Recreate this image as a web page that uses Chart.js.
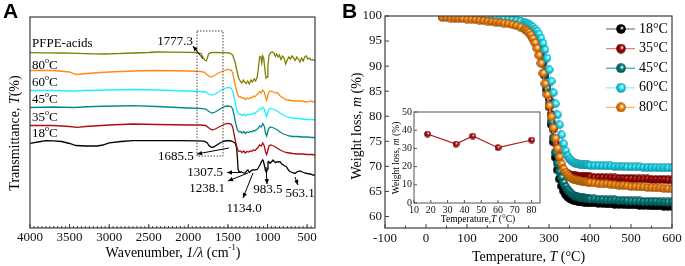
<!DOCTYPE html>
<html><head><meta charset="utf-8">
<script src="https://cdn.jsdelivr.net/npm/chart.js@4/dist/chart.umd.min.js"></script>
<style>
html,body{margin:0;padding:0;background:#fff;}
#wrap{position:relative;width:685px;height:266px;overflow:hidden;background:#fff;}
canvas{position:absolute;}
.pl{position:absolute;font:bold 21px "Liberation Sans",Arial,sans-serif;color:#000;line-height:21px;}
</style></head>
<body>
<div id="wrap">
<canvas id="cA" width="340" height="266" style="left:0;top:0;width:340px;height:266px"></canvas>
<canvas id="cB" width="345" height="266" style="left:340px;top:0;width:345px;height:266px"></canvas>
<canvas id="cI" width="160" height="124" style="left:390px;top:104px;width:160px;height:124px"></canvas>
<div class="pl" style="left:3px;top:0px">A</div>
<div class="pl" style="left:342px;top:0px">B</div>
</div>
<script>
// ================= Panel A: FTIR spectra (wavenumber cm-1, offset transmittance) =================
const ftirPFPE = [[4000,175.3],[3800,175.2],[3600,175],[3400,174.6],[3200,174.2],[3050,174],[2900,174.3],[2700,175],[2500,175.5],[2400,176],[2200,175.8],[2000,175.6],[1900,175.5],[1840,174.5],[1810,170],[1790,167.5],[1775,167.3],[1760,170],[1745,174],[1720,175.3],[1650,175.5],[1560,175.3],[1480,175],[1440,173],[1410,166],[1385,157],[1365,150],[1345,147],[1325,145],[1305,148],[1290,146],[1270,144.5],[1250,147],[1230,144],[1210,148],[1190,146],[1170,149],[1150,147],[1130,151],[1115,160],[1100,171],[1085,171.5],[1072,165],[1060,172],[1048,170],[1035,160],[1020,150],[1005,151],[995,162],[982,172],[960,175.5],[940,176],[920,175],[900,171.5],[885,174],[865,171],[850,173],[830,168.5],[810,172],[790,170],[770,164],[750,168],[730,171],[710,169],[690,172],[670,170],[650,167.5],[630,171],[610,169],[590,166],[570,170],[550,167],[530,171],[510,172],[490,169],[470,170],[450,168],[430,168.5],[410,167.5],[400,168]];
const ftir80 = [[4000,157.5],[3700,157.5],[3500,156],[3420,153.5],[3350,154],[3200,155],[3000,156],[2700,157],[2400,157.5],[2000,157],[1850,156.5],[1800,156],[1760,153],[1720,151],[1680,152],[1620,155],[1560,157],[1500,158.5],[1460,158],[1440,155],[1420,148],[1400,140],[1380,134],[1360,131],[1340,131.5],[1320,129.5],[1300,130.5],[1280,128.5],[1260,130],[1240,129],[1220,130.5],[1200,130],[1180,132],[1160,131],[1140,133],[1120,134],[1100,136.5],[1080,135],[1060,138],[1040,136],[1025,131],[1010,128],[995,133],[980,136],[960,137],[940,136.5],[920,136],[900,135],[880,135.5],[860,134],[840,132],[820,131],[800,130],[780,129],[760,128],[740,128],[700,127.5],[660,127],[620,127],[580,127],[540,126.5],[500,126],[460,127],[430,126.5],[400,126]];
const ftir60 = [[4000,137.5],[3700,137.5],[3450,137],[3300,137.5],[3000,138],[2700,138.5],[2400,138],[2000,137],[1850,136.5],[1780,136],[1740,134],[1700,133],[1660,134],[1600,137],[1540,139.5],[1500,140.5],[1460,140],[1440,137],[1420,130],[1400,122],[1380,116],[1360,113.5],[1340,114],[1320,112.5],[1300,114],[1280,112],[1260,113.5],[1240,113],[1220,114],[1200,113.5],[1180,115],[1160,114.5],[1140,116],[1120,117],[1100,119],[1080,118.5],[1060,121],[1040,119],[1025,114],[1010,111.5],[995,116],[980,119],[960,119.5],[940,119],[920,118.5],[900,118],[880,117],[860,116],[840,115],[800,113],[760,111.5],[720,110.5],[680,110],[620,109.5],[560,109],[500,108.5],[440,108.5],[400,108]];
const ftir45 = [[4000,120.5],[3700,121],[3450,120.5],[3200,121.5],[2900,122],[2700,122.3],[2400,121.5],[2000,120],[1850,119.7],[1780,119],[1740,116.5],[1700,115],[1660,116],[1600,119],[1540,121.5],[1500,122],[1460,121.5],[1440,119],[1420,112],[1400,104],[1380,98],[1360,96],[1340,96.5],[1320,95],[1300,96.5],[1280,94.5],[1260,96],[1240,95.5],[1220,96.5],[1200,96],[1180,97.5],[1160,97],[1140,98.5],[1120,99.5],[1100,102],[1080,101],[1060,104.5],[1040,101.5],[1025,95],[1010,92],[995,97],[980,100],[960,101],[940,100.5],[920,100],[900,99],[880,98.5],[860,97],[840,96],[800,94],[760,93],[720,92],[680,91.5],[620,91.5],[560,91],[500,91],[440,90.5],[400,90.5]];
const ftir35 = [[4000,102.5],[3700,102.5],[3500,101.5],[3400,100.7],[3300,101.5],[3000,103],[2700,104],[2400,103.5],[2000,103],[1850,103],[1780,102.5],[1740,100],[1700,98],[1660,99],[1600,101.5],[1540,104],[1500,104.7],[1460,104],[1440,101],[1420,93],[1400,85],[1380,79],[1360,76.5],[1340,77],[1320,75.5],[1300,77],[1280,75],[1260,76.5],[1240,76],[1220,77],[1200,76.5],[1180,78],[1160,77.5],[1140,79],[1120,80.5],[1100,83],[1080,82],[1060,85],[1040,82],[1025,76],[1010,73.5],[995,78],[980,82],[960,83],[940,82.5],[920,82],[900,81],[880,80],[860,79],[840,78],[800,76.5],[760,75.5],[720,75],[680,74.5],[620,74],[560,74],[500,73.5],[440,73.5],[400,73]];
const ftir18 = [[4000,84.7],[3900,86],[3800,87.3],[3700,87.2],[3600,86.5],[3500,84.5],[3420,82.5],[3300,82],[3150,82],[3080,83],[3000,85.2],[2850,86.5],[2700,87.3],[2400,87.3],[2100,87.3],[1900,87.2],[1800,86.8],[1760,85],[1740,82.5],[1710,80.7],[1680,81],[1640,83],[1590,85.5],[1540,87],[1500,87.5],[1460,87],[1430,86],[1405,84.5],[1390,80],[1380,70],[1372,59],[1360,56.3],[1330,56],[1300,55],[1284,54.7],[1265,57],[1248,58],[1230,55.5],[1210,57],[1190,58],[1160,58.2],[1130,58.5],[1110,61],[1090,64],[1075,66.5],[1063,68],[1055,67.5],[1040,63],[1025,57],[1012,56],[1003,59],[994,66],[985,66.5],[968,64.7],[950,66],[930,68],[915,66.5],[900,65.3],[880,66.3],[860,66],[842,66.3],[820,64],[800,63],[780,62],[760,61.3],[741,58.5],[720,56.5],[700,56],[670,55],[650,54.7],[620,56.5],[590,57],[560,56],[530,55],[500,54.5],[460,54],[425,53],[400,53]];
const ftirNames = ['PFPE-acids','80','60','45','35','18'];
const wnTicks = [4000,3500,3000,2500,2000,1500,1000,500];
const peakLabels = ['1777.3','1685.5','1307.5','1238.1','1134.0','983.5','563.1'];

// ================= Panel B: TGA curves =================
const tgaTemp = [40,50,60,70,80,90,100,110,120,130,140,150,160,170,180,190,200,210,220,230,240,
 245,250,255,260,265,270,275,280,285,290,295,300,305,310,315,320,325,330,335,340,345,350,355,360,365,370,375,380,385,390,395,400,
 410,420,430,440,450,460,470,480,490,500,510,520,530,540,550,560,570,580,590,600];
const tga18 = [99.9,99.9,99.9,99.9,99.9,99.8,99.8,99.8,99.7,99.7,99.7,99.6,99.6,99.5,99.5,99.4,99.3,99.2,99.0,98.8,98.5,
 98.3,98.0,97.6,97.1,96.4,95.5,94.3,92.7,90.6,88.1,85.2,81.9,78.4,74.9,71.8,69.3,67.5,66.1,65.1,64.4,63.9,63.6,63.4,63.2,63.1,63.0,62.9,62.9,62.8,62.8,62.8,62.7,
 62.7,62.6,62.6,62.5,62.5,62.4,62.4,62.4,62.3,62.3,62.3,62.2,62.2,62.2,62.1,62.1,62.1,62.0,62.0,62.0];
const tga35 = [99.9,99.9,99.9,99.8,99.8,99.8,99.8,99.7,99.7,99.7,99.6,99.6,99.5,99.5,99.4,99.4,99.3,99.2,99.0,98.8,98.5,
 98.3,98.0,97.6,97.1,96.5,95.7,94.6,93.1,91.2,88.9,86.3,83.4,80.4,77.4,74.7,72.5,70.9,69.9,69.2,68.8,68.5,68.3,68.2,68.1,68.1,68.0,68.0,68.0,67.9,67.9,67.9,67.9,
 67.8,67.8,67.8,67.7,67.7,67.7,67.6,67.6,67.6,67.6,67.5,67.5,67.5,67.5,67.4,67.4,67.4,67.4,67.3,67.3];
const tga45 = [99.9,99.9,99.9,99.9,99.8,99.8,99.8,99.8,99.7,99.7,99.7,99.6,99.6,99.5,99.5,99.4,99.3,99.2,99.1,98.9,98.6,
 98.4,98.1,97.7,97.2,96.5,95.6,94.4,92.8,90.8,88.4,85.6,82.4,79.0,75.7,72.8,70.6,69.0,67.8,66.8,66.0,65.4,64.9,64.5,64.2,64.0,63.9,63.8,63.7,63.7,63.6,63.6,63.5,
 63.5,63.4,63.4,63.3,63.3,63.3,63.2,63.2,63.2,63.1,63.1,63.1,63.0,63.0,63.0,63.0,62.9,62.9,62.9,62.9];
const tga60 = [99.9,99.9,99.9,99.9,99.9,99.8,99.8,99.8,99.8,99.7,99.7,99.7,99.6,99.6,99.5,99.5,99.4,99.3,99.2,99.0,98.8,
 98.6,98.4,98.1,97.8,97.4,97.0,96.4,95.6,94.6,93.3,91.6,89.3,87.0,84.7,82.5,80.3,78.3,76.3,74.5,73.1,72.1,71.5,71.1,70.8,70.6,70.5,70.4,70.4,70.3,70.3,70.3,70.2,
 70.2,70.2,70.1,70.1,70.1,70.0,70.0,70.0,69.9,69.9,69.9,69.9,69.8,69.8,69.8,69.8,69.7,69.7,69.7,69.7];
const tga80 = [99.7,99.7,99.6,99.6,99.5,99.5,99.4,99.4,99.3,99.2,99.1,99.0,98.9,98.8,98.7,98.6,98.5,98.3,98.1,97.8,97.4,
 97.1,96.7,96.2,95.5,94.7,93.6,92.2,90.6,88.6,86.5,84.3,82.1,79.9,77.7,75.6,73.6,71.9,70.5,69.5,68.8,68.3,67.9,67.6,67.4,67.3,67.2,67.1,67.0,66.9,66.9,66.8,66.8,
 66.7,66.6,66.5,66.5,66.4,66.3,66.2,66.2,66.1,66.0,66.0,65.9,65.9,65.8,65.8,65.7,65.7,65.6,65.6,65.5];
const tgaNames = ['18°C','35°C','45°C','60°C','80°C'];
const tempTicks = [-100,0,100,200,300,400,500,600];
const massTicks = [60,65,70,75,80,85,90,95,100];

// ================= Inset: total weight loss vs synthesis temperature =================
const insetTemp = [18,35,45,60,80];
const insetLoss = [37.9,32.4,36.8,30.4,34.6];
const insetXTicks = [10,20,30,40,50,60,70,80];
const insetYTicks = [0,10,20,30,40,50];

// ================= styling / layout =================
const SERIF = '"Liberation Serif","Times New Roman",serif';
const ftirColors = ['#808000','#ff8a16','#1ef2ff','#008a8a','#b00c0c','#000000'];
const tgaColors = ['#000000','#a80000','#008080','#1ee8ff','#ff8a10'];
const tgaLineColors = ['#777777','#e08080','#40a0a0','#80f0ff','#ffb060'];
const tgaOrder = [4,3,2,1,0];
const plain = v => String(v);

function shade(hex, f){
  const n=parseInt(hex.slice(1),16);let r=(n>>16)&255,g=(n>>8)&255,b=n&255;
  r=Math.round(r*f);g=Math.round(g*f);b=Math.round(b*f);return `rgb(${r},${g},${b})`;
}
function sphere(color, d){
  const c=document.createElement('canvas');c.width=c.height=d;const g=c.getContext('2d');
  const r=d/2;
  const grad=g.createRadialGradient(r*1.25,r*0.75,r*0.05,r,r,r);
  grad.addColorStop(0,'#ffffff');grad.addColorStop(0.4,color);grad.addColorStop(1,shade(color,0.55));
  g.fillStyle=grad;g.beginPath();g.arc(r,r,r-0.2,0,Math.PI*2);g.fill();
  return c;
}
function fontOf(s,size){return (s.i?'italic ':'')+(s.sup?size*0.62:size)+'px '+SERIF;}
function drawRich(ctx,segs,x,y,size,rot,align){
  ctx.save();ctx.translate(x,y);if(rot)ctx.rotate(rot);
  let w=0;for(const s of segs){ctx.font=fontOf(s,size);w+=ctx.measureText(s.t).width;}
  let cx=align==='left'?0:-w/2;
  ctx.textBaseline='middle';ctx.textAlign='left';ctx.fillStyle='#000';
  for(const s of segs){ctx.font=fontOf(s,size);ctx.fillText(s.t,cx,s.sup?-size*0.38:0);cx+=ctx.measureText(s.t).width;}
  ctx.restore();
}
function arrow(ctx,x1,y1,x2,y2){
  ctx.save();ctx.strokeStyle='#000';ctx.fillStyle='#000';ctx.lineWidth=1;
  ctx.beginPath();ctx.moveTo(x1,y1);ctx.lineTo(x2,y2);ctx.stroke();
  const a=Math.atan2(y2-y1,x2-x1),L=5,W=2.2;
  ctx.beginPath();ctx.moveTo(x2,y2);
  ctx.lineTo(x2-L*Math.cos(a)+W*Math.sin(a),y2-L*Math.sin(a)-W*Math.cos(a));
  ctx.lineTo(x2-L*Math.cos(a)-W*Math.sin(a),y2-L*Math.sin(a)+W*Math.cos(a));
  ctx.closePath();ctx.fill();ctx.restore();
}
// frame + inward ticks plugin
const framePlugin={id:'frame',afterDatasetsDraw(chart,args,o){
  const {ctx,chartArea:a,scales}=chart;ctx.save();
  ctx.strokeStyle=o.color||'#333';ctx.lineWidth=o.width||1.2;
  ctx.strokeRect(a.left,a.top,a.right-a.left,a.bottom-a.top);
  ctx.lineWidth=1;
  (o.xt||[]).forEach(t=>{for(let v=t.from;v<=t.to+1e-9;v+=t.step){const p=scales.x.getPixelForValue(v);ctx.beginPath();ctx.moveTo(p,a.bottom);ctx.lineTo(p,a.bottom-t.len);ctx.stroke();}});
  (o.yt||[]).forEach(t=>{for(let v=t.from;v<=t.to+1e-9;v+=t.step){const p=scales.y.getPixelForValue(v);ctx.beginPath();ctx.moveTo(a.left,p);ctx.lineTo(a.left+t.len,p);ctx.stroke();}});
  ctx.restore();
  (o.titles||[]).forEach(t=>drawRich(ctx,t.segs,t.x,t.y,t.size,t.rot,'center'));
}};
const tickFont={family:SERIF,size:13};

// ---------- Panel A ----------
const annotA={
  rect:[1891,1562,197,72],
  text:[[2168,186],[2156,71],[1789,55.5],[1764,39],[1296,19],[994,38],[589,34]],
  arrows:[[1815,169,1941,182],[1486,80,1891,74],[1335,55.5,1512,55.5],[1246,55,1499,47],[1183,55,1309,30],[1019,61,1006,44],[653,51,615,43]],
  series:[[3975,184],[3975,162.3],[3975,145],[3975,128],[3975,110],[3975,94]]
};
const annotPluginA={id:'annotA',afterDatasetsDraw(chart){
  const {ctx,scales:{x,y}}=chart;
  ctx.save();
  const r=annotA.rect;ctx.strokeStyle='#444';ctx.lineWidth=1;ctx.setLineDash([1.5,1.5]);
  const rx1=x.getPixelForValue(r[0]),rx2=x.getPixelForValue(r[1]),ry1=y.getPixelForValue(r[2]),ry2=y.getPixelForValue(r[3]);
  ctx.strokeRect(rx1,ry1,rx2-rx1,ry2-ry1);ctx.setLineDash([]);
  annotA.arrows.forEach(a=>arrow(ctx,x.getPixelForValue(a[0]),y.getPixelForValue(a[1]),x.getPixelForValue(a[2]),y.getPixelForValue(a[3])));
  peakLabels.forEach((t,i)=>drawRich(ctx,[{t}],x.getPixelForValue(annotA.text[i][0]),y.getPixelForValue(annotA.text[i][1]),13,0,'center'));
  ftirNames.forEach((n,i)=>{
    const segs=i===0?[{t:n}]:[{t:n},{t:'o',sup:1},{t:'C'}];
    drawRich(ctx,segs,x.getPixelForValue(annotA.series[i][0]),y.getPixelForValue(annotA.series[i][1]),13,0,'left');
  });
  ctx.restore();
}};
const ftirAll=[ftirPFPE,ftir80,ftir60,ftir45,ftir35,ftir18];
new Chart(document.getElementById('cA'),{
  type:'line',
  data:{datasets:ftirAll.map((d,i)=>({label:ftirNames[i],data:d.map(p=>({x:p[0],y:p[1]})),borderColor:ftirColors[i],borderWidth:1.3,pointRadius:0,tension:0,fill:false}))},
  options:{responsive:false,animation:false,events:[],
    layout:{padding:{top:17,right:25,left:0,bottom:0}},
    plugins:{legend:{display:false},tooltip:{enabled:false},
      frame:{color:'#3c3c3c',width:1.2,xt:[{from:500,to:4000,step:500,len:4},{from:450,to:3950,step:50,len:2}],
        titles:[{segs:[{t:'Wavenumber, '},{t:'1/λ',i:1},{t:' (cm'},{t:'-1',sup:1},{t:')'}],x:173,y:253,size:14},
                {segs:[{t:'Transmittance, '},{t:'T',i:1},{t:'(%)'}],x:15,y:133,size:14,rot:-Math.PI/2}]}},
    scales:{
      x:{type:'linear',min:400,max:4000,reverse:true,
        afterBuildTicks:s=>{s.ticks=wnTicks.map(v=>({value:v}));},
        afterFit:s=>{s.height=38;},
        ticks:{font:tickFont,color:'#111',padding:2,maxRotation:0,autoSkip:false,callback:plain},
        grid:{display:false,drawTicks:false},border:{display:false}},
      y:{min:0,max:211,afterFit:s=>{s.width=30;},ticks:{display:false},grid:{display:false,drawTicks:false},border:{display:false}}
    }},
  plugins:[framePlugin,annotPluginA]
});

// ---------- Panel B ----------
const tgaAll=[tga18,tga35,tga45,tga60,tga80];
const legendPluginB={id:'legB',afterDraw(chart){
  const ctx=chart.ctx;ctx.save();
  tgaNames.forEach((n,i)=>{
    const yy=29+i*19.6;
    ctx.strokeStyle=tgaLineColors[i];ctx.lineWidth=1.2;ctx.beginPath();ctx.moveTo(266,yy);ctx.lineTo(295,yy);ctx.stroke();
    const sp=sphere(tgaColors[i],10);ctx.drawImage(sp,281-5,yy-5);
    drawRich(ctx,[{t:n}],299,yy,14,0,'left');
  });
  ctx.restore();
}};
new Chart(document.getElementById('cB'),{
  type:'line',
  data:{datasets:tgaAll.map((d,i)=>({label:tgaNames[i],data:tgaTemp.map((t,j)=>({x:t,y:d[j]})),
    borderColor:tgaLineColors[i],borderWidth:1,pointStyle:sphere(tgaColors[i],9),pointRadius:4.5,order:tgaOrder[i],tension:0,fill:false}))},
  options:{responsive:false,animation:false,events:[],
    layout:{padding:{top:16,right:13,left:0,bottom:0}},
    plugins:{legend:{display:false},tooltip:{enabled:false},
      frame:{color:'#3c3c3c',width:1.2,xt:[{from:-100,to:600,step:100,len:4},{from:-50,to:550,step:100,len:2.5}],
        yt:[{from:60,to:100,step:5,len:4}],
        titles:[{segs:[{t:'Temperature, '},{t:'T',i:1},{t:' (°C)'}],x:188.5,y:257,size:14},
                {segs:[{t:'Weight loss, '},{t:'m',i:1},{t:' (%)'}],x:17,y:126,size:14,rot:-Math.PI/2}]}},
    scales:{
      x:{type:'linear',min:-100,max:600,
        afterBuildTicks:s=>{s.ticks=tempTicks.map(v=>({value:v}));},
        afterFit:s=>{s.height=38;},
        ticks:{font:tickFont,color:'#111',padding:3,maxRotation:0,autoSkip:false,callback:plain},
        grid:{display:false,drawTicks:false},border:{display:false}},
      y:{min:57.7,max:100,
        afterBuildTicks:s=>{s.ticks=massTicks.map(v=>({value:v}));},
        afterFit:s=>{s.width=45;},
        ticks:{font:tickFont,color:'#111',padding:3,autoSkip:false,callback:plain},
        grid:{display:false,drawTicks:false},border:{display:false}}
    }},
  plugins:[framePlugin,legendPluginB]
});

// ---------- Inset ----------
new Chart(document.getElementById('cI'),{
  type:'line',
  data:{datasets:[{label:'Weight loss',data:insetTemp.map((t,j)=>({x:t,y:insetLoss[j]})),borderColor:'#b01818',borderWidth:1.2,
    pointStyle:sphere('#b01010',7),pointRadius:3.5,tension:0,fill:false}]},
  options:{responsive:false,animation:false,events:[],
    layout:{padding:{top:8,right:10,left:0,bottom:0}},
    plugins:{legend:{display:false},tooltip:{enabled:false},
      frame:{color:'#555',width:1,xt:[{from:10,to:80,step:10,len:3}],yt:[{from:0,to:50,step:10,len:3}],
        titles:[{segs:[{t:'Temperature,'},{t:'T',i:1},{t:' (°C)'}],x:88,y:115,size:9.5},
                {segs:[{t:'Weight loss, '},{t:'m',i:1},{t:' (%)'}],x:6,y:54,size:9.5,rot:-Math.PI/2}]}},
    scales:{
      x:{type:'linear',min:10,max:85,
        afterBuildTicks:s=>{s.ticks=insetXTicks.map(v=>({value:v}));},
        afterFit:s=>{s.height=25;},
        ticks:{font:{family:SERIF,size:10},color:'#111',padding:1,maxRotation:0,autoSkip:false,callback:plain},
        grid:{display:false,drawTicks:false},border:{display:false}},
      y:{min:0,max:50,
        afterBuildTicks:s=>{s.ticks=insetYTicks.map(v=>({value:v}));},
        afterFit:s=>{s.width=24;},
        ticks:{font:{family:SERIF,size:10},color:'#111',padding:2,autoSkip:false,callback:plain},
        grid:{display:false,drawTicks:false},border:{display:false}}
    }},
  plugins:[framePlugin]
});
</script>
</body></html>
